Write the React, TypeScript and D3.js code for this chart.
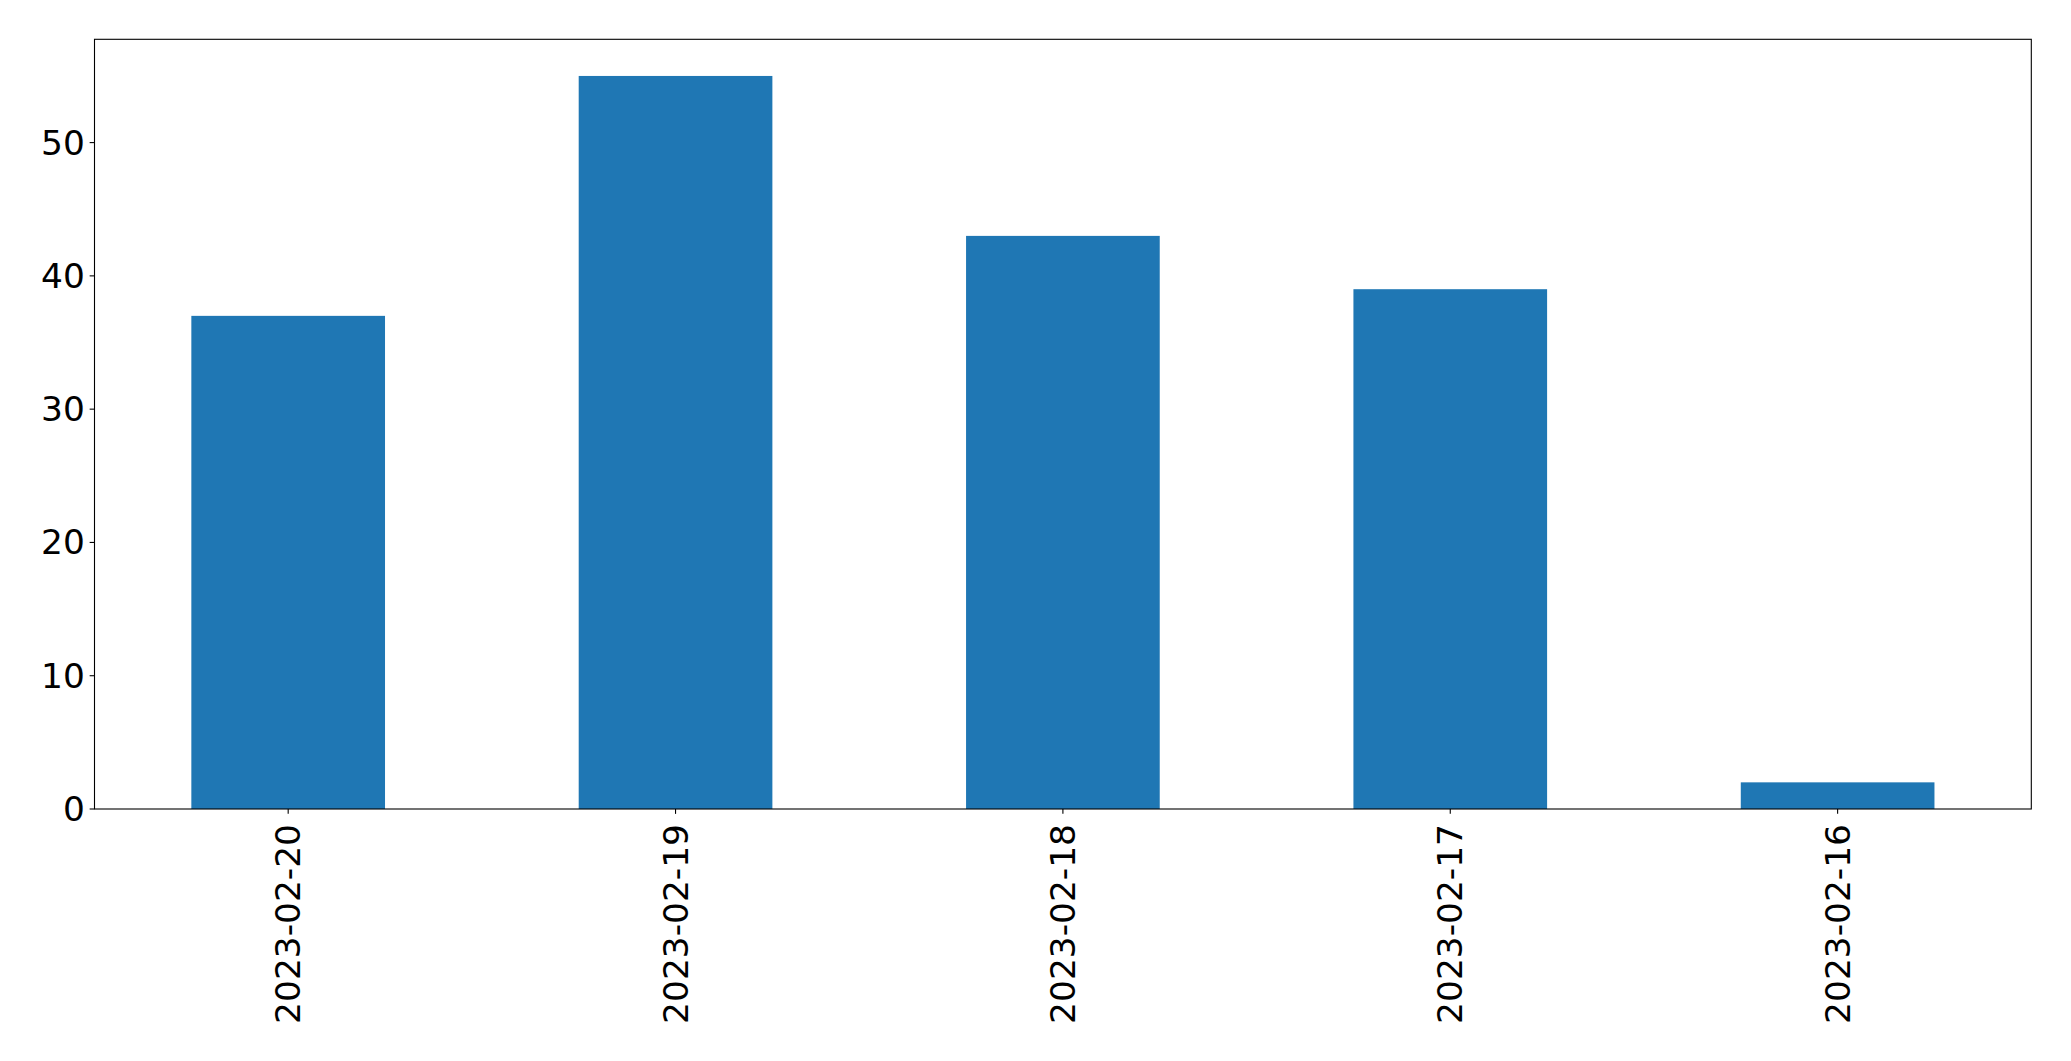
import React from "react";
import * as d3 from "d3";

const categories = ["2023-02-20", "2023-02-19", "2023-02-18", "2023-02-17", "2023-02-16"];
const values = [37, 55, 43, 39, 2];
const yTicks = [0, 10, 20, 30, 40, 50];

const W = 2071;
const H = 1061;
const M = { left: 94.5, top: 39.3, right: 2031.3, bottom: 809 };
const FONT = 34.4;
const TICK = 4.86;
const PAD = 4.86;
const XPAD = 15;

export default function App() {
  const x = d3
    .scaleBand<string>()
    .domain(categories)
    .range([M.left, M.right])
    .paddingInner(0.5)
    .paddingOuter(0.25);
  const yMax = (d3.max(values) as number) * 1.05;
  const y = d3.scaleLinear().domain([0, yMax]).range([M.bottom, M.top]);

  return (
    <svg
      width={W}
      height={H}
      style={{ position: "absolute", left: 0, top: 0, background: "#fff" }}
      fontFamily="DejaVu Sans"
    >
      <rect x={0} y={0} width={W} height={H} fill="#fff" />
      {categories.map((c, i) => (
        <rect
          key={c}
          x={x(c)}
          y={y(values[i])}
          width={x.bandwidth()}
          height={y(0) - y(values[i])}
          fill="#1f77b4"
        />
      ))}
      <rect
        x={M.left}
        y={M.top}
        width={M.right - M.left}
        height={M.bottom - M.top}
        fill="none"
        stroke="#000"
        strokeWidth={1.1}
      />
      {yTicks.map((t) => (
        <g key={t} transform={`translate(${M.left},${y(t)})`}>
          <line x1={-TICK} x2={0} stroke="#000" strokeWidth={1.1} />
          <text
            x={-TICK - PAD}
            dy="0.35em"
            textAnchor="end"
            fontSize={FONT}
            fill="#000"
          >
            {t}
          </text>
        </g>
      ))}
      {categories.map((c) => {
        const cx = (x(c) as number) + x.bandwidth() / 2;
        return (
          <g key={c} transform={`translate(${cx},${M.bottom})`}>
            <line y1={0} y2={TICK} stroke="#000" strokeWidth={1.1} />
            <text
              transform={`translate(0,${XPAD}) rotate(-90)`}
              textAnchor="end"
              dy="0.35em"
              fontSize={FONT}
              fill="#000"
            >
              {c}
            </text>
          </g>
        );
      })}
    </svg>
  );
}
